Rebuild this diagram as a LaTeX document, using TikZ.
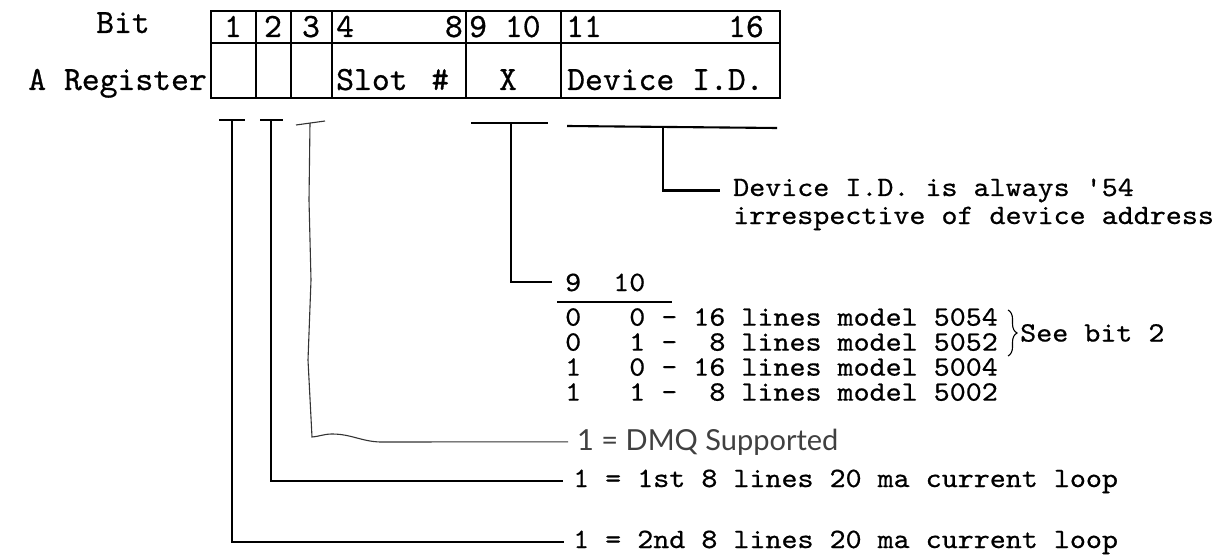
\documentclass[tikz,border=0pt]{standalone}
\usepackage{fontspec}
\usepackage{graphicx}
\usetikzlibrary{decorations.pathreplacing}
\newfontfamily\handfont{Lato}
\newfontfamily\typew[FakeBold=0.6]{lmmono10-regular.otf}
\newcommand{\wide}[1]{\scalebox{1.09}[1]{#1}}
\begin{document}
\begin{tikzpicture}[x=1pt,y=-1pt,
  tbl/.style={line width=1.5pt},
  brk/.style={line width=2.1pt},
  thin/.style={line width=1.1pt, black!80},
  ttab/.style={inner sep=0pt, font=\fontsize{34}{38}\selectfont\typew},
  tnote/.style={inner sep=0pt, font=\fontsize{28}{25}\selectfont\typew},
  hand/.style={inner sep=0pt, font=\fontsize{29}{33}\selectfont\handfont, black!75}
]
\useasboundingbox (0,0) rectangle (1215,556);
% table
\draw[tbl] (211,11) rectangle (780,98);
\draw[tbl] (211,43) -- (780,43);
\foreach \x in {256,291,332,466,561} \draw[tbl] (\x,11) -- (\x,98);
% labels left
\node[ttab, anchor=base] (bitlbl) at (123,33) {Bit};
\node[ttab, anchor=base east] (areg) at (207,90) {A Register};
% top row
\node[ttab, anchor=base] (d1) at (233,37) {1};
\node[ttab, anchor=base] (d2) at (273,37) {2};
\node[ttab, anchor=base] (d3) at (311,37) {3};
\node[ttab, anchor=base west] (d4) at (336,37) {4};
\node[ttab, anchor=base east] (d8) at (463,37) {8};
\node[ttab, anchor=base west] (d910) at (469,37) {9 10};
\node[ttab, anchor=base west] (d11) at (566,37) {11};
\node[ttab, anchor=base east] (d16) at (764,37) {16};
% bottom row
\node[ttab, anchor=base west] (slot) at (336,90) {Slot\hspace{0.7em}\#};
\node[ttab, anchor=base] (xfield) at (508,90) {X};
\node[ttab, anchor=base west] (devid) at (567,90) {Device I.D.};
% bracket bars
\draw[brk] (219,120) -- (245,120);
\draw[brk] (260,120) -- (283,120);
\draw[thin] (296,125) -- (325,121);
\draw[brk] (471,123) -- (548,123);
\draw[brk] (567,126) -- (777,128);
\coordinate (b1) at (232,120);
\coordinate (b2) at (271,120);
\coordinate (b3) at (310,123);
\coordinate (bx) at (511,123);
\coordinate (bd) at (663,127);
% notes
\node[tnote, anchor=base west] (devnote) at (733,196) {\wide{Device I.D. is always '54}};
\node[tnote, anchor=base west] (devnote2) at (733,224) {\wide{irrespective of device address}};
\node[tnote, anchor=base west] (t910) at (565,291) {\wide{9~~10}};
\node[tnote, anchor=north west, align=left] (rows) at (565,308)
  {\wide{0~~~0 - 16 lines model 5054}\\
   \wide{0~~~1 - ~8 lines model 5052}\\
   \wide{1~~~0 - 16 lines model 5004}\\
   \wide{1~~~1 - ~8 lines model 5002}};
\coordinate (r1top) at (565,306);
\node[hand, anchor=base west] (tdmq) at (577,450) {1 = DMQ Supported};
\node[tnote, anchor=base west] (t1st) at (573,487) {\wide{1 = 1st 8 lines 20 ma current loop}};
\node[tnote, anchor=base west] (t2nd) at (573,548) {\wide{1 = 2nd 8 lines 20 ma current loop}};
% connectors
\draw[brk] (b1) |- ([xshift=-9pt]t2nd.west);
\draw[brk] (b2) |- ([xshift=-10pt]t1st.west);
\draw[thin] (b3) -- (309,200) -- (311,280) -- (308,360) -- (312,437)
  to[out=5,in=180] (332,434) to[out=0,in=178] (380,442) -- ([xshift=-9pt]tdmq.west);
\draw[brk] (bx) |- ([xshift=-13pt]t910.west);
\draw[brk] (bd) |- ([xshift=-13pt]devnote.west);
\draw[line width=1.5pt] (557,302) -- (672,302);
% brace
\draw[line width=1.1pt, decorate, decoration={brace, amplitude=9pt}]
  ([xshift=10pt,yshift=-2pt]rows.north east) -- ([xshift=10pt,yshift=-48pt]rows.north east) coordinate[midway] (bmid);
\node[tnote, anchor=west] (seebit) at ([xshift=12pt]bmid) {\wide{See bit 2}};
\end{tikzpicture}
\end{document}
